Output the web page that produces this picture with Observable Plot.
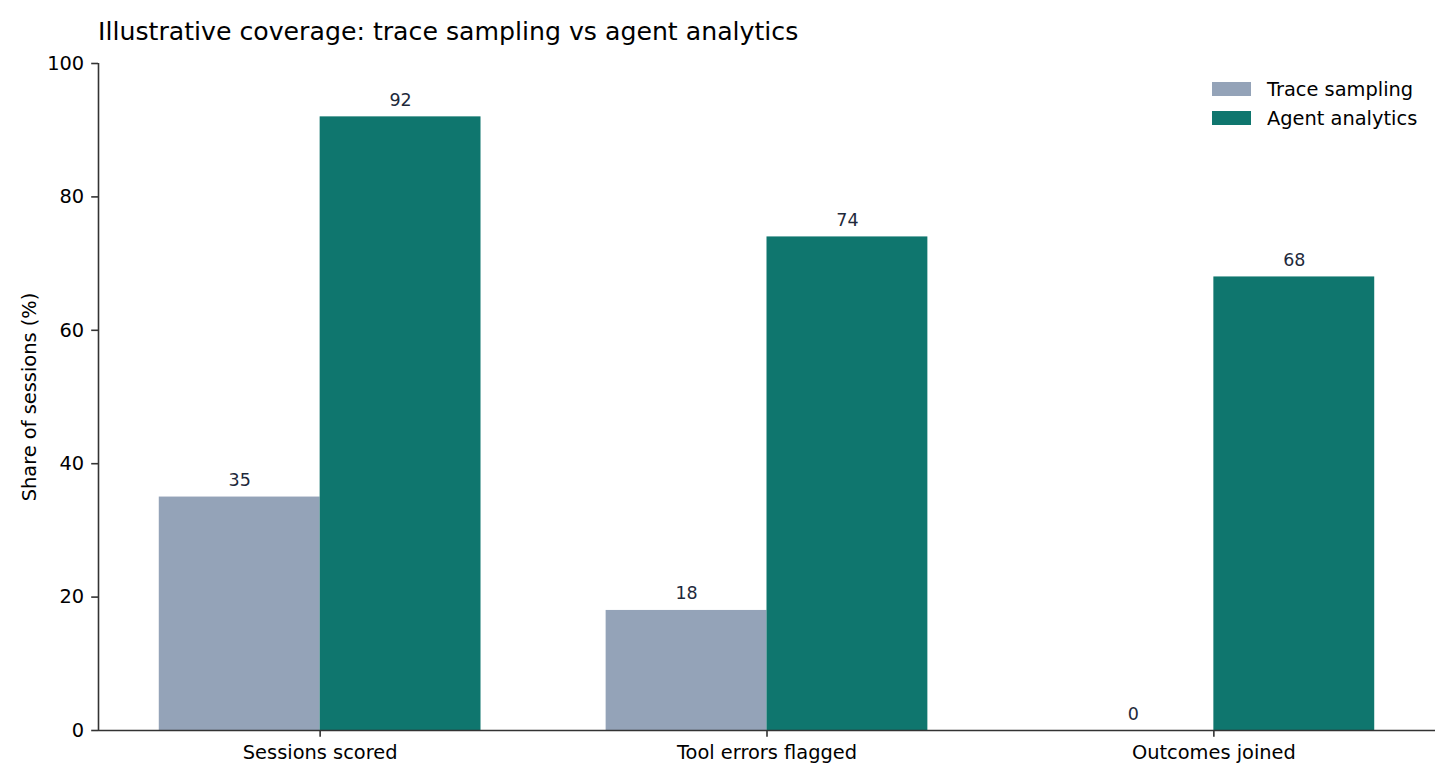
<!DOCTYPE html>
<html><head><meta charset="utf-8">
<script src="https://cdn.jsdelivr.net/npm/d3@7"></script>
<script src="https://cdn.jsdelivr.net/npm/@observablehq/plot@0.6"></script>
<style>
body{margin:0;background:#fff;font-family:"DejaVu Sans",sans-serif;}
#wrap{position:relative;width:1456px;height:784px;overflow:hidden;background:#fff;}
#title{position:absolute;left:98px;top:17.3px;font-size:25.2px;line-height:1.164;color:#000;white-space:nowrap;}
.lg-swatch{position:absolute;left:1212px;width:39px;height:13.5px;}
.lg-text{position:absolute;left:1267px;font-size:19.4px;line-height:1.164;color:#000;white-space:nowrap;}
</style></head><body><div id="wrap"></div><script>
const titleText = "Illustrative coverage: trace sampling vs agent analytics";
const yLabel = "Share of sessions (%)";
const categories = ["Sessions scored", "Tool errors flagged", "Outcomes joined"];
const series = ["Trace sampling", "Agent analytics"];
const traceSampling = [35, 18, 0];
const agentAnalytics = [92, 74, 68];
const yTicks = [0, 20, 40, 60, 80, 100];
const colors = ["#94a3b8", "#0f766e"];

const barW = 0.36;
const valuesBySeries = [traceSampling, agentAnalytics];
const rows = categories.flatMap((c, i) => series.map((s, j) => ({
  i, category: c, series: s, value: valuesBySeries[j][i],
  x1: i + (j - 1) * barW, x2: i + j * barW, xc: i + (j - 0.5) * barW
})));
const lo = d3.min(rows, d => d.x1), hi = d3.max(rows, d => d.x2);
const pad = (hi - lo) * 0.05;
const xDomain = [lo - pad, hi + pad];

const axisColor = "#333";
const plot = Plot.plot({
  width: 1456, height: 784,
  marginLeft: 98, marginRight: 21, marginTop: 63, marginBottom: 54,
  style: {fontFamily: "DejaVu Sans, sans-serif", fontSize: "19.4px", color: "#000", background: "transparent", overflow: "visible"},
  x: {type: "linear", domain: xDomain},
  y: {domain: [0, 100]},
  color: {domain: series, range: colors},
  marks: [
    Plot.rect(rows, {x1: "x1", x2: "x2", y1: 0, y2: "value", fill: "series"}),
    Plot.text(rows, {x: "xc", y: "value", text: d => String(d.value), lineAnchor: "bottom", dy: -11, fill: "#1e293b", fontSize: 17.5}),
    Plot.ruleY([0], {stroke: axisColor, strokeWidth: 1.6}),
    Plot.ruleX([xDomain[0]], {stroke: axisColor, strokeWidth: 1.6}),
    Plot.axisY({ticks: yTicks, tickSize: 6.8, tickPadding: 7.5, label: null, stroke: axisColor, strokeWidth: 1.6, fill: "#000"}),
    Plot.axisX({ticks: d3.range(categories.length), tickFormat: i => categories[i], tickSize: 6.8, tickPadding: 8, label: null, stroke: axisColor, strokeWidth: 1.6, fill: "#000"}),
    Plot.text([yLabel], {frameAnchor: "left", text: d => d, rotate: -90, textAnchor: "middle", dx: -69, fontSize: 19.4, fill: "#000"})
  ]
});
const wrap = document.getElementById("wrap");
wrap.appendChild(plot);
const t = document.createElement("div");
t.id = "title"; t.textContent = titleText; wrap.appendChild(t);
series.forEach((s, j) => {
  const sw = document.createElement("div");
  sw.className = "lg-swatch"; sw.style.top = (82.3 + j * 28.8) + "px"; sw.style.background = colors[j];
  wrap.appendChild(sw);
  const tx = document.createElement("div");
  tx.className = "lg-text"; tx.style.top = (78.7 + j * 28.8) + "px"; tx.textContent = s;
  wrap.appendChild(tx);
});
</script></body></html>
